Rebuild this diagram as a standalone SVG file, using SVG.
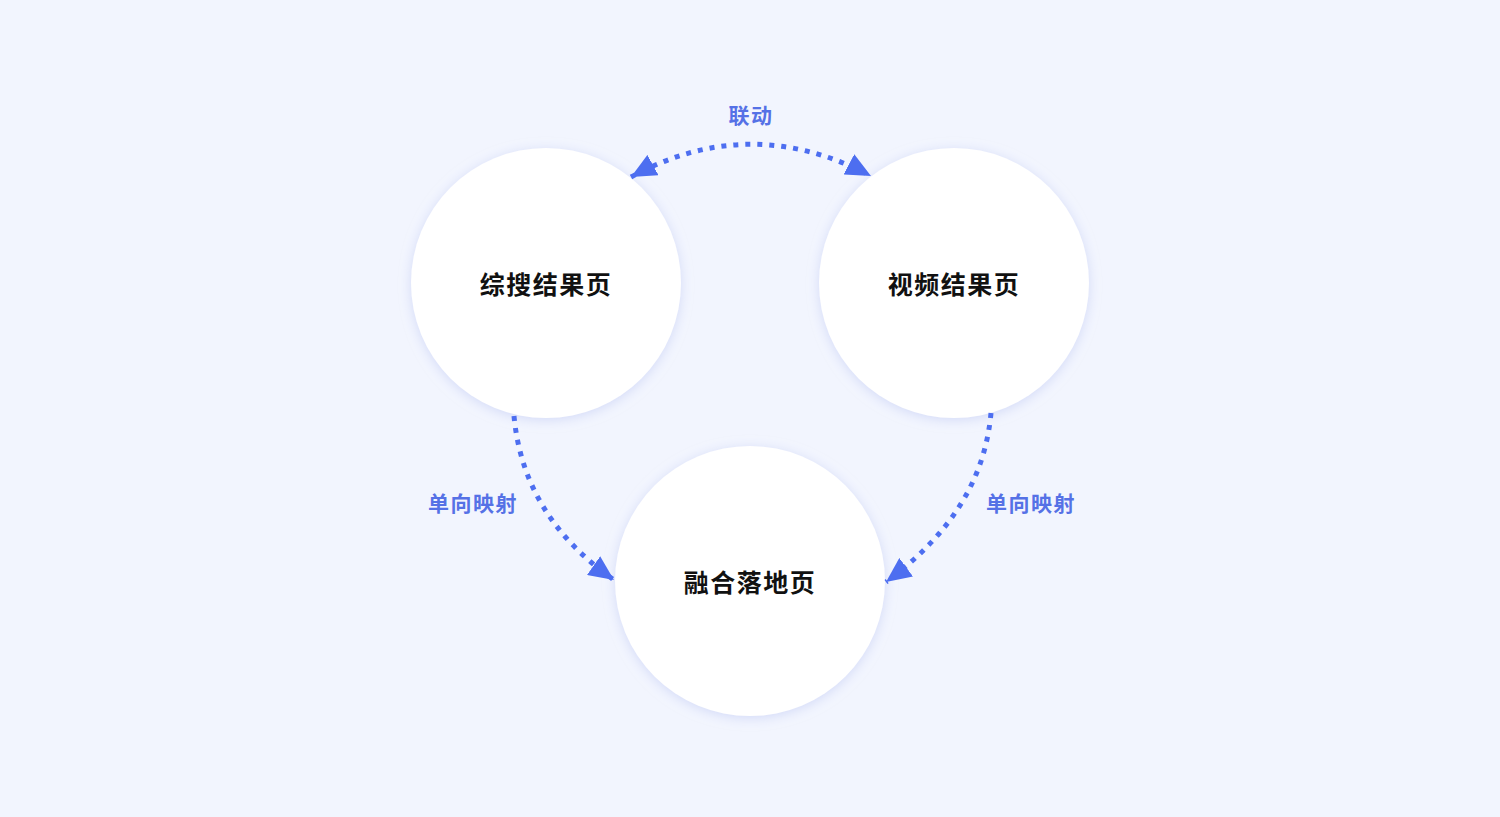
<svg xmlns="http://www.w3.org/2000/svg" width="1500" height="817" viewBox="0 0 1500 817">
<style>
.node{fill:#ffffff;filter:url(#sh)}
.nt{font-family:"Noto Sans CJK SC","Noto Sans",sans-serif;font-size:25px;font-weight:700;fill:#111;text-anchor:middle;letter-spacing:1.5px}
.lt{font-family:"Noto Sans CJK SC","Noto Sans",sans-serif;font-size:21px;font-weight:600;fill:#5571e6;text-anchor:middle;letter-spacing:1.5px}
.cn{fill:none;stroke:#4d6ef0;stroke-width:5;stroke-dasharray:5 7}
</style>
<defs>
<filter id="sh" x="-20%" y="-20%" width="140%" height="140%">
<feDropShadow dx="0" dy="2" stdDeviation="6" flood-color="#b9c4f2" flood-opacity="0.55"/>
</filter>
<marker id="ah" viewBox="0 0 25 23" refX="25" refY="11.5" markerWidth="25" markerHeight="23" markerUnits="userSpaceOnUse" orient="auto-start-reverse">
<path d="M0 0 L25 11.5 L0 23 Z" fill="#4d6ef0"/>
</marker>
</defs>
<rect width="1500" height="817" fill="#f2f5fe"/>
<g id="node-zongsou"><circle class="node" cx="546" cy="283" r="135"/><text class="nt" x="546" y="294">综搜结果页</text></g>
<g id="node-shipin"><circle class="node" cx="954" cy="283" r="135"/><text class="nt" x="954" y="294">视频结果页</text></g>
<g id="node-ronghe"><circle class="node" cx="750" cy="581" r="135"/><text class="nt" x="750" y="592">融合落地页</text></g>
<g id="connectors">
<path class="cn" d="M631 177 Q750 112 871 176" marker-start="url(#ah)" marker-end="url(#ah)"/>
<path class="cn" d="M514 416 C520 480 550 535 614 580" marker-end="url(#ah)"/>
<path class="cn" d="M991 413 C985 480 950 535 886 582" marker-end="url(#ah)"/>
<text class="lt" x="751" y="123">联动</text>
<text class="lt" x="473" y="511">单向映射</text>
<text class="lt" x="1031" y="511">单向映射</text>
</g>
</svg>
